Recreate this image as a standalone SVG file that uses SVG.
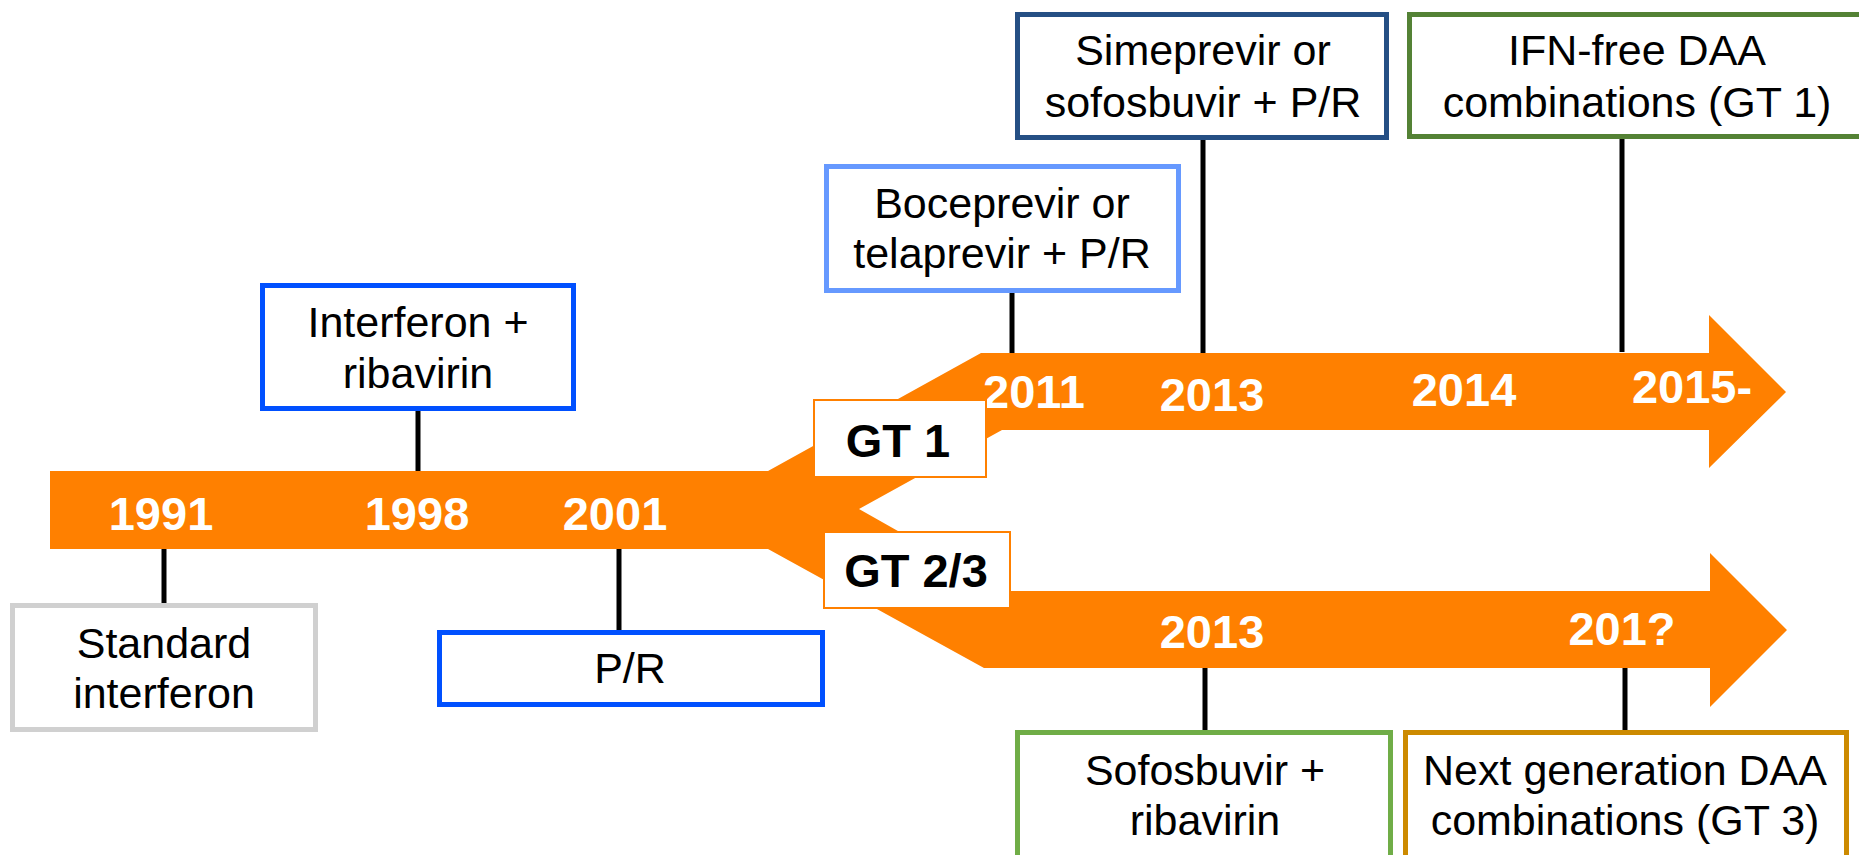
<svg xmlns="http://www.w3.org/2000/svg" width="1859" height="855" viewBox="0 0 1859 855">
<style>
.box{fill:#fff;stroke-width:5}
.lbl{font-family:"Liberation Sans",Arial,sans-serif;font-size:43px;fill:#000;text-anchor:middle}
.yr{font-family:"Liberation Sans",Arial,sans-serif;font-size:47px;font-weight:bold;fill:#fff;text-anchor:middle}
.gt{font-family:"Liberation Sans",Arial,sans-serif;font-size:47px;font-weight:bold;fill:#000;text-anchor:middle}
.gtbox{fill:#fff;stroke:#ff8000;stroke-width:2}
.stem{stroke:#000;stroke-width:5;fill:none}
</style>
<rect width="1859" height="855" fill="#fff"/>
<g id="timeline">
<path d="M50,471 L768,471 L981,353 L1709,353 L1709,315 L1786,392 L1709,468 L1709,430 L1002,430 L859,509 L1004,591 L1710,591 L1710,553 L1787,630 L1710,707 L1710,668 L984,668 L768,549 L50,549 Z" fill="#ff8000"/>
<text class="yr" x="161" y="530">1991</text>
<text class="yr" x="417" y="530">1998</text>
<text class="yr" x="615" y="530">2001</text>
<text class="yr" x="1034" y="408">2011</text>
<text class="yr" x="1212" y="411">2013</text>
<text class="yr" x="1464" y="406">2014</text>
<text class="yr" x="1692" y="403">2015-</text>
<text class="yr" x="1212" y="648">2013</text>
<text class="yr" x="1622" y="645">201?</text>
</g>
<g id="connectors">
<line class="stem" x1="164" y1="549" x2="164" y2="604"/>
<line class="stem" x1="418" y1="410" x2="418" y2="471"/>
<line class="stem" x1="619" y1="549" x2="619" y2="631"/>
<line class="stem" x1="1012" y1="292" x2="1012" y2="353"/>
<line class="stem" x1="1203" y1="139" x2="1203" y2="353"/>
<line class="stem" x1="1622" y1="138" x2="1622" y2="352"/>
<line class="stem" x1="1205" y1="668" x2="1205" y2="731"/>
<line class="stem" x1="1625" y1="668" x2="1625" y2="731"/>
</g>
<g id="gt1">
<rect class="gtbox" x="814" y="400" width="172" height="77"/>
<text class="gt" x="898" y="457">GT 1</text>
</g>
<g id="gt23">
<rect class="gtbox" x="824" y="532" width="186" height="76"/>
<text class="gt" x="916" y="587">GT 2/3</text>
</g>
<g id="standard">
<rect class="box" x="12.5" y="605.5" width="303" height="124" stroke="#d0d0d0"/>
<text class="lbl" x="164" y="658">Standard</text>
<text class="lbl" x="164" y="708">interferon</text>
</g>
<g id="ifn-rbv">
<rect class="box" x="262.5" y="285.5" width="311" height="123" stroke="#0050ff"/>
<text class="lbl" x="418" y="337">Interferon +</text>
<text class="lbl" x="418" y="388">ribavirin</text>
</g>
<g id="pr">
<rect class="box" x="439.5" y="632.5" width="383" height="72" stroke="#0050ff"/>
<text class="lbl" x="630" y="683">P/R</text>
</g>
<g id="boceprevir">
<rect class="box" x="826.5" y="166.5" width="352" height="124" stroke="#6699ff"/>
<text class="lbl" x="1002" y="218">Boceprevir or</text>
<text class="lbl" x="1002" y="268">telaprevir + P/R</text>
</g>
<g id="simeprevir">
<rect class="box" x="1017.5" y="14.5" width="369" height="123" stroke="#254f84"/>
<text class="lbl" x="1203" y="65">Simeprevir or</text>
<text class="lbl" x="1203" y="117">sofosbuvir + P/R</text>
</g>
<g id="ifnfree">
<rect class="box" x="1409.5" y="14.5" width="470" height="122" stroke="#548235"/>
<text class="lbl" x="1637" y="65">IFN-free DAA</text>
<text class="lbl" x="1637" y="117">combinations (GT 1)</text>
</g>
<g id="sofosbuvir">
<rect class="box" x="1017.5" y="732.5" width="373" height="126" stroke="#70ad47"/>
<text class="lbl" x="1205" y="785">Sofosbuvir +</text>
<text class="lbl" x="1205" y="835">ribavirin</text>
</g>
<g id="nextgen">
<rect class="box" x="1405.5" y="732.5" width="441" height="126" stroke="#cc8a00"/>
<text class="lbl" x="1625" y="785">Next generation DAA</text>
<text class="lbl" x="1625" y="835">combinations (GT 3)</text>
</g>
</svg>
